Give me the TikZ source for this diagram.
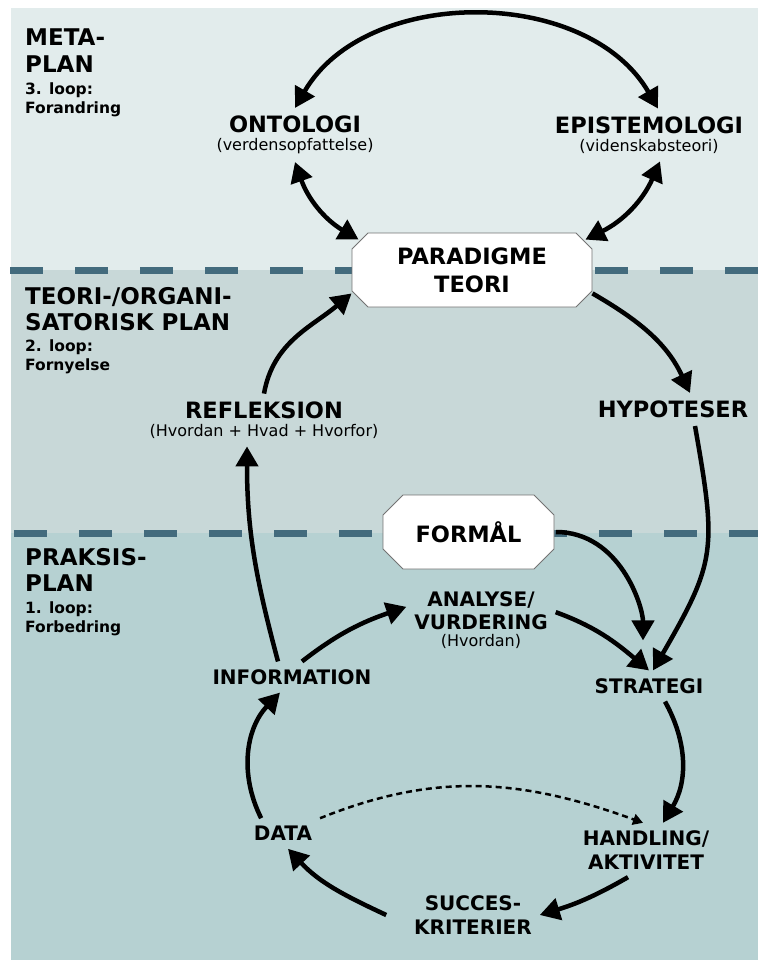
\documentclass[tikz,border=0pt]{standalone}
\usepackage{fontspec}
\setmainfont{DejaVu Sans}
\usetikzlibrary{arrows.meta, shapes.misc}

\definecolor{metabg}{RGB}{226,236,236}
\definecolor{teoribg}{RGB}{200,216,216}
\definecolor{praksisbg}{RGB}{182,209,210}
\definecolor{dashblue}{RGB}{67,107,125}
\newcommand{\subtxt}[1]{{\fontsize{16}{19}\selectfont\mdseries #1}}

\begin{document}
\begin{tikzpicture}[x=1pt,y=1pt]

\tikzset{plane/.style = {font=\fontsize{23}{26.5}\selectfont\bfseries, align=left, anchor=north west, inner sep=0pt}}
\tikzset{loopnote/.style = {font=\fontsize{15.5}{19}\selectfont\bfseries, align=left, anchor=north west, inner sep=0pt}}
\tikzset{concept/.style = {font=\fontsize{22.5}{26}\selectfont\bfseries, align=center, inner sep=3pt, outer sep=5pt}}
\tikzset{stage/.style = {font=\fontsize{20}{23.5}\selectfont\bfseries, align=center, inner sep=3pt, outer sep=5pt}}
\tikzset{box/.style = {chamfered rectangle, draw=black!55, line width=0.8pt, fill=white, font=\fontsize{22.5}{26}\selectfont\bfseries, align=center, inner sep=0pt, outer sep=2pt}}
\tikzset{edge/.style = {line width=4.5pt, -{Triangle[length=20pt,width=22pt]}}}
\tikzset{biedge/.style = {line width=4.5pt, {Triangle[length=20pt,width=22pt]}-{Triangle[length=20pt,width=22pt]}}}
\tikzset{hint/.style = {line width=2.5pt, dash pattern=on 6pt off 4pt, -{Triangle[length=10pt,width=11pt]}}}

\useasboundingbox (0,0) rectangle (758,-960);
%planes
\fill[white] (0,0) rectangle (758,-960);
\fill[metabg] (11,-8) rectangle (758,-270);
\fill[teoribg] (11,-270) rectangle (758,-533);
\fill[praksisbg] (11,-533) rectangle (758,-960);
\draw[dashblue, line width=7pt, dash pattern=on 33pt off 32pt] (10,-270) -- (758,-270);
\draw[dashblue, line width=7pt, dash pattern=on 33pt off 32pt] (14,-533) -- (758,-533);

\node[plane] (meta) at (25,-29) {META-\\PLAN};
\node[loopnote] (metaloop) at (25,-83) {3. loop:\\Forandring};
\node[plane] (teori) at (25,-287) {TEORI-/ORGANI-\\SATORISK PLAN};
\node[loopnote] (teoriloop) at (25,-340) {2. loop:\\Fornyelse};
\node[plane] (praksis) at (25,-548) {PRAKSIS-\\PLAN};
\node[loopnote] (praksisloop) at (25,-602) {1. loop:\\Forbedring};

%nodes
\node[concept] (ont) at (295,-135) {ONTOLOGI\\[-8pt]\subtxt{(verdensopfattelse)}};
\node[concept] (epi) at (649,-135) {EPISTEMOLOGI\\[-8pt]\subtxt{(videnskabsteori)}};
\node[box, minimum width=240pt, minimum height=74pt, chamfered rectangle xsep=8pt, chamfered rectangle ysep=8pt] (par) at (472,-270) {PARADIGME\\[2pt]TEORI};
\node[concept] (refl) at (264,-420) {REFLEKSION\\[-8pt]\subtxt{(Hvordan + Hvad + Hvorfor)}};
\node[concept] (hyp) at (673,-409.5) {HYPOTESER};
\node[box, minimum width=171pt, minimum height=74pt, chamfered rectangle xsep=10pt, chamfered rectangle ysep=10pt] (form) at (468.5,-532) {FORMÅL};
\node[stage] (ana) at (481,-620) {ANALYSE/\\VURDERING\\[-7pt]\subtxt{(Hvordan)}};
\node[stage] (info) at (292,-677) {INFORMATION};
\node[stage] (strat) at (649,-686) {STRATEGI};
\node[stage] (data) at (283,-833.5) {DATA};
\node[stage] (hand) at (646,-850) {HANDLING/\\AKTIVITET};
\node[stage] (succ) at (473,-915) {SUCCES-\\KRITERIER};

%edges
\draw[biedge] (ont.north) to[out=60,in=120] ([xshift=9pt]epi.north);
\draw[biedge] (ont.south) to[bend right=20] (par.north west);
\draw[biedge] ([xshift=11pt]epi.south) to[bend left=20] (par.north east);
\draw[edge] (refl.north) to[out=80,in=220] (par.191);
\draw[edge] (par.349) to[out=-30,in=115] ([xshift=17pt]hyp.north);
\draw[edge] ([xshift=22pt]hyp.south) to[out=-80,in=60,looseness=1.3] ([xshift=4pt]strat.north);
\draw[edge] ([xshift=-14pt]info.north) to[out=105,in=-90] ([xshift=-17pt]refl.south);
\draw[edge, shorten >=30pt] (form.east) to[out=0,in=90] ([xshift=-6pt]strat.north);
\draw[edge] (ana.6) to[out=-20,in=140] (strat.north);
\draw[edge] ([xshift=16pt]strat.south) to[bend left=30] ([xshift=17pt]hand.north);
\draw[edge] ([xshift=-18pt]hand.south) to[out=-150,in=17] (succ.east);
\draw[edge] ([xshift=-20pt]succ.west) to[out=155,in=-47] ([xshift=5pt]data.south);
\draw[edge] (data.145) to[bend left=35] ([xshift=-12pt]info.south);
\draw[edge] ([xshift=10pt]info.north) to[out=38,in=199] (ana.170);
\draw[hint] (data.north east) to[out=22,in=160] ([xshift=-3pt]hand.north);

\end{tikzpicture}
\end{document}
